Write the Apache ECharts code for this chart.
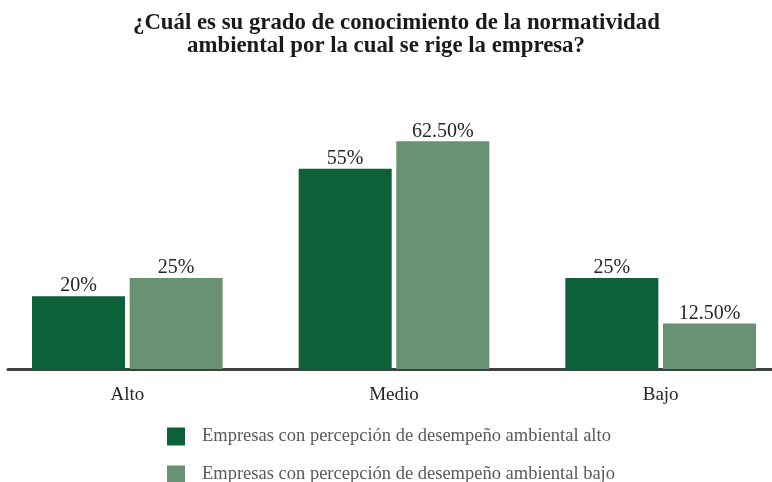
<!DOCTYPE html>
<html>
<head>
<meta charset="utf-8">
<script src="https://cdn.jsdelivr.net/npm/echarts@6/dist/echarts.min.js"></script>
<style>
  html, body { margin: 0; padding: 0; background: #fff; }
  #main { width: 772px; height: 482px; }
</style>
</head>
<body>
<div id="main"></div>
<script>
// datos del grafico
const categories = ['Alto', 'Medio', 'Bajo'];
const seriesNames = [
  'Empresas con percepción de desempeño ambiental alto',
  'Empresas con percepción de desempeño ambiental bajo'
];
const valuesAlto = [20, 55, 25];
const valuesBajo = [25, 62.5, 12.5];
const valueLabelsAlto = ['20%', '55%', '25%'];
const valueLabelsBajo = ['25%', '62.50%', '12.50%'];
const titleLines = [
  '¿Cuál es su grado de conocimiento de la normatividad',
  'ambiental por la cual se rige la empresa?'
];

const serif = '"Liberation Serif", "DejaVu Serif", serif';

let myChart = echarts.init(document.getElementById('main'));

// una leyenda por serie, apiladas
function legendFor(name, top) {
  return {
    orient: 'vertical',
    left: 167,
    top: top,
    padding: 0,
    itemWidth: 18,
    itemHeight: 18,
    icon: 'rect',
    textStyle: {
      fontFamily: serif,
      fontSize: 18.5,
      lineHeight: 18,
      color: '#595959',
      padding: [0, 0, 0, 12]
    },
    data: [name]
  };
}

function valueLabel(texts) {
  return {
    show: true,
    position: 'top',
    distance: 0,
    fontFamily: serif,
    fontSize: 20,
    lineHeight: 20,
    color: '#262626',
    formatter: p => texts[p.dataIndex]
  };
}

function titleLine(text, left, top) {
  return {
    text: text,
    left: left,
    top: top,
    padding: 0,
    textStyle: {
      fontFamily: serif,
      fontWeight: 'bold',
      fontSize: 22.8,
      lineHeight: 23,
      color: '#1a1a1a'
    }
  };
}

let option = {
  backgroundColor: '#ffffff',
  animation: false,
  title: [titleLine(titleLines[0], 133, 12), titleLine(titleLines[1], 'center', 35)],
  legend: [legendFor(seriesNames[0], 427), legendFor(seriesNames[1], 465)],
  grid: [
    { left: -6, right: -22, top: 114, bottom: 113, outerBoundsMode: 'none', containLabel: false },
    { left: 8, right: 0, top: 114, bottom: 113, outerBoundsMode: 'none', containLabel: false }
  ],
  xAxis: [
    {
      type: 'category',
      gridIndex: 0,
      data: categories,
      axisLine: { show: false },
      axisTick: { show: false },
      axisLabel: {
        margin: 17,
        fontFamily: serif,
        fontSize: 19,
        color: '#262626'
      }
    },
    {
      type: 'category',
      gridIndex: 1,
      data: categories,
      axisLine: { show: true, lineStyle: { color: '#404040', width: 3 } },
      axisTick: { show: false },
      axisLabel: { show: false }
    }
  ],
  yAxis: [
    { type: 'value', gridIndex: 0, min: 0, max: 70, show: false },
    { type: 'value', gridIndex: 1, min: 0, max: 70, show: false }
  ],
  series: [
    {
      name: seriesNames[0],
      type: 'bar',
      data: valuesAlto,
      barWidth: 93,
      barGap: '5%',
      itemStyle: { color: '#0c6139' },
      label: valueLabel(valueLabelsAlto),
      z: 3
    },
    {
      name: seriesNames[1],
      type: 'bar',
      data: valuesBajo,
      barWidth: 93,
      barGap: '5%',
      itemStyle: { color: '#699173' },
      label: valueLabel(valueLabelsBajo),
      z: 3
    }
  ]
};
myChart.setOption(option);
</script>
</body>
</html>
